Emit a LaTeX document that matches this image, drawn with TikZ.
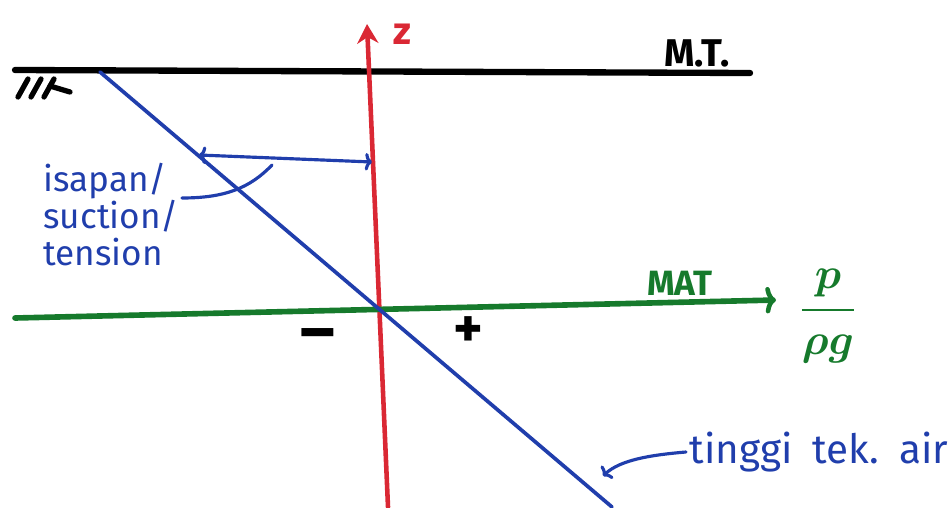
\documentclass[tikz,border=0pt]{standalone}
\usepackage{amsmath}
\usepackage{fontspec}
\setmainfont{Fira Sans}
\usetikzlibrary{arrows.meta,calc}
\definecolor{zred}{RGB}{218,40,52}
\definecolor{zgreen}{RGB}{22,122,44}
\definecolor{zblue}{RGB}{32,62,172}
\tikzset{
  every picture/.style={line width=2pt},
  sground/.style={line width=3.6pt, black, line cap=round},
  shatch/.style={line width=3pt, black, line cap=round},
  saxis/.style={line width=2.6pt, zred, line cap=round, -{Stealth[length=11pt,width=12pt]}},
  smat/.style={line width=3.2pt, zgreen, line cap=round, -{To[length=6pt,width=15pt,line width=2.6pt]}},
  shead/.style={line width=2.1pt, zblue, line cap=round},
  sgap/.style={line width=1.8pt, zblue, {To[length=4pt,width=10pt]}-{To[length=4pt,width=10pt]}},
  slead/.style={line width=1.8pt, zblue, line cap=round},
  lblk/.style={font=\fontsize{22}{24}\selectfont\bfseries, text=black, inner sep=1pt},
  lred/.style={font=\fontsize{22}{24}\selectfont\bfseries, text=zred, inner sep=1pt},
  lgreen/.style={font=\fontsize{20}{22}\selectfont\bfseries, text=zgreen, inner sep=1pt},
  lblue/.style={font=\fontsize{20}{21}\selectfont, text=zblue, inner sep=1pt, align=left},
  lsign/.style={font=\fontsize{32}{34}\selectfont\bfseries, text=black, inner sep=1pt},
}

\begin{document}
\begin{tikzpicture}[x=0.02cm,y=-0.02cm]
\useasboundingbox (0,0) rectangle (952,507);
% ground surface (M.T.)
\coordinate (gL) at (15,70);
\coordinate (gR) at (750,73);
\draw[sground] (gL) -- (gR);
\node[lblk] (mt) at (697,53) {M.T.};
\foreach \hx in {18,31,44}
  \draw[shatch] (\hx,97) -- ++(10,-18);
\draw[shatch] (50,86) -- (70,92);
% z axis
\coordinate (zB) at (388,507);
\coordinate (zT) at (367,24);
\draw[saxis] (zB) -- (zT);
\node[lred] (zlab) at (402,34) {z};
% water table (MAT)
\coordinate (mL) at (15,318);
\coordinate (mR) at (776,300);
\draw[smat] (mL) -- (mR);
\node[lgreen] (mat) at (680,283) {MAT};
\node[text=zgreen, font=\fontsize{32}{36}\selectfont, inner sep=1pt] (pfrac) at (828,316)
  {$\boldsymbol{\dfrac{p}{\rho g}}$};
% pressure head line
\coordinate (hT) at (100,72);
\coordinate (hB) at (612,507);
\draw[shead] (hT) -- (hB);
% suction distance
\coordinate (sL) at (199,155);
\coordinate (sR) at (372,162);
\draw[sgap] (sL) -- (sR);
\node[lblue, anchor=north west] (suc) at (40,160) {isapan/\\suction/\\tension};
\coordinate (sucA) at (182,198);
\coordinate (sucB) at (272,165);
\draw[slead] (sucA) .. controls (225,198) and (250,188) .. (sucB);
\node[lsign, font=\fontsize{38}{40}\selectfont\bfseries] (minus) at (318,341) {–};
\node[lsign] (plus) at (468,332) {+};
% label of head line
\node[lblue, font=\fontsize{23}{24}\selectfont, anchor=west] (tinggi) at (686,452) {tinggi\enspace tek.\enspace air};
\coordinate (tiA) at (tinggi.west);
\coordinate (tiB) at (603,476);
\draw[slead, -{To[length=4pt,width=10pt]}] (tiA) .. controls (650,455) and (620,460) .. (tiB);
\end{tikzpicture}
\end{document}
